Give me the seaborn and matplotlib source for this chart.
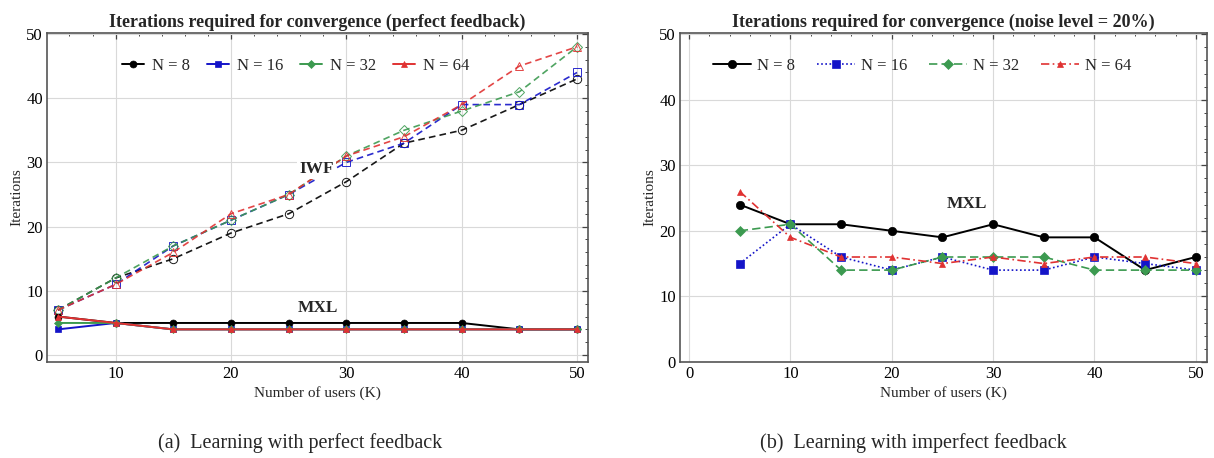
import numpy as np
import pandas as pd
import matplotlib
matplotlib.use('Agg')
import matplotlib.pyplot as plt
import seaborn as sns
from matplotlib.ticker import MultipleLocator

# 数据
users_k = [5, 10, 15, 20, 25, 30, 35, 40, 45, 50]
series_names = ['N = 8', 'N = 16', 'N = 32', 'N = 64']

# (a) 完美反馈: IWF (虚线, 空心) 和 MXL (实线, 实心)
iwf_n8 = [7, 12, 15, 19, 22, 27, 33, 35, 39, 43]
iwf_n16 = [7, 11, 17, 21, 25, 30, 33, 39, 39, 44]
iwf_n32 = [7, 12, 17, 21, 25, 31, 35, 38, 41, 48]
iwf_n64 = [7, 11, 16, 22, 25, 31, 34, 39, 45, 48]

mxl_n8 = [6, 5, 5, 5, 5, 5, 5, 5, 4, 4]
mxl_n16 = [4, 5, 4, 4, 4, 4, 4, 4, 4, 4]
mxl_n32 = [5, 5, 4, 4, 4, 4, 4, 4, 4, 4]
mxl_n64 = [6, 5, 4, 4, 4, 4, 4, 4, 4, 4]

# (b) 噪声 20%
noisy_n8 = [24, 21, 21, 20, 19, 21, 19, 19, 14, 16]
noisy_n16 = [15, 21, 16, 14, 16, 14, 14, 16, 15, 14]
noisy_n32 = [20, 21, 14, 14, 16, 16, 16, 14, 14, 14]
noisy_n64 = [26, 19, 16, 16, 15, 16, 15, 16, 16, 15]

colors = ['black', '#1414c8', '#3c9a50', '#e03232']
markers = ['o', 's', 'D', '^']

sns.set_style('white')
plt.rcParams['font.family'] = ['Liberation Serif', 'DejaVu Serif']

fig = plt.figure(figsize=(12.14, 4.58), dpi=100)
ax1 = fig.add_axes([0.0387, 0.210, 0.4456, 0.718])
ax2 = fig.add_axes([0.5601, 0.210, 0.4341, 0.718])


def style_axes(ax):
    ax.grid(True, which='major', color='#d9d9d9', linewidth=0.8)
    ax.set_axisbelow(True)
    ax.xaxis.set_major_locator(MultipleLocator(10))
    ax.xaxis.set_minor_locator(MultipleLocator(2))
    ax.yaxis.set_major_locator(MultipleLocator(10))
    ax.yaxis.set_minor_locator(MultipleLocator(2))
    ax.tick_params(which='both', direction='in', top=True, right=True,
                   colors='#444444', labelcolor='black', labelsize=12)
    ax.tick_params(which='major', length=4.5, width=0.9, pad=3)
    ax.tick_params(which='minor', length=2.5, width=0.7)
    for sp in ax.spines.values():
        sp.set_color('#555555')
        sp.set_linewidth(1.2)
    ax.set_xlabel('Number of users (K)', fontsize=11, labelpad=3)
    ax.set_ylabel('Iterations', fontsize=11, labelpad=2)


# 左图
iwf = [iwf_n8, iwf_n16, iwf_n32, iwf_n64]
mxl = [mxl_n8, mxl_n16, mxl_n32, mxl_n64]
for i in range(4):
    sns.lineplot(x=users_k, y=iwf[i], ax=ax1, color=colors[i], marker=markers[i],
                 linestyle=(0, (4, 2.5)), linewidth=1.2, markersize=6 if i != 2 else 5,
                 markerfacecolor='none', markeredgecolor=colors[i], markeredgewidth=0.7,
                 alpha=0.9, zorder=2)
for i in range(4):
    sns.lineplot(x=users_k, y=mxl[i], ax=ax1, color=colors[i], marker=markers[i],
                 linestyle='-', linewidth=1.4, markersize=5 if i != 2 else 4,
                 markeredgewidth=0.5, markeredgecolor=colors[i],
                 label=series_names[i], zorder=3)

ax1.text(27.4, 29.0, 'IWF', fontsize=12.5, fontweight='bold', ha='center', va='center',
         bbox=dict(facecolor='white', edgecolor='none', pad=1.5), zorder=4)
ax1.text(27.5, 7.3, 'MXL', fontsize=12.5, fontweight='bold', ha='center', va='center',
         zorder=4)
ax1.set_xlim(4.05, 50.94)
ax1.set_ylim(-1.05, 50.15)
style_axes(ax1)
ax1.set_title('Iterations required for convergence (perfect feedback)',
              fontsize=13, fontweight='bold', pad=4)
ax1.legend(loc='center', bbox_to_anchor=(0.46, 0.9), ncol=4, frameon=False,
           fontsize=12, handlelength=1.3, handletextpad=0.5, columnspacing=1.0)

# 右图
noisy = [noisy_n8, noisy_n16, noisy_n32, noisy_n64]
styles = ['-', (0, (1, 1.5)), (0, (5, 2.5)), (0, (5, 2, 1, 2))]
for i in range(4):
    sns.lineplot(x=users_k, y=noisy[i], ax=ax2, color=colors[i], marker=markers[i],
                 linestyle=styles[i], linewidth=1.4 if i == 0 else 1.2,
                 markersize=6 if i < 2 else 5, markeredgewidth=0.5,
                 markeredgecolor=colors[i], label=series_names[i], zorder=3)
ax2.text(27.4, 24.1, 'MXL', fontsize=12.5, fontweight='bold', ha='center', va='center')
ax2.set_xlim(-0.9, 51.1)
ax2.set_ylim(0, 50.2)
style_axes(ax2)
ax2.set_title('Iterations required for convergence (noise level = 20%)',
              fontsize=13, fontweight='bold', pad=4)
ax2.legend(loc='center', bbox_to_anchor=(0.46, 0.9), ncol=4, frameon=False,
           fontsize=12, handlelength=2.3, handletextpad=0.35, columnspacing=1.3)

# 子图说明
fig.text(0.247, 0.033, '(a)  Learning with perfect feedback', fontsize=14.5,
         ha='center', va='center')
fig.text(0.752, 0.033, '(b)  Learning with imperfect feedback', fontsize=14.5,
         ha='center', va='center')

fig.savefig('out.png', dpi=100)
